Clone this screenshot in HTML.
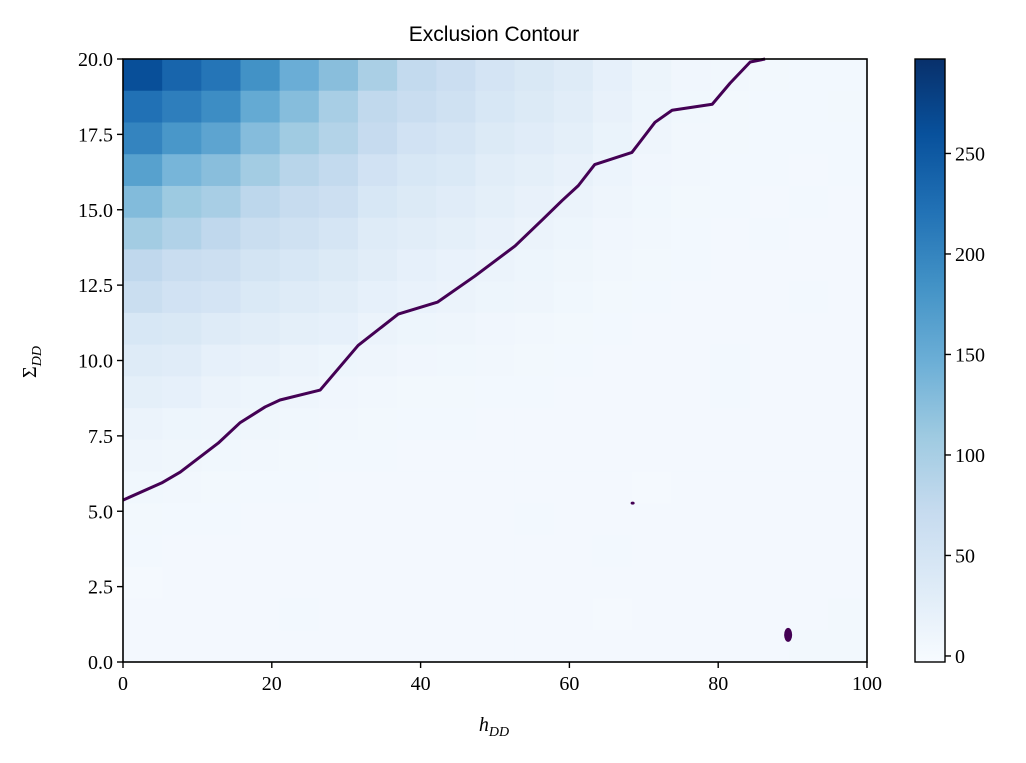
<!DOCTYPE html>
<html><head><meta charset="utf-8"><style>
html,body{margin:0;padding:0;background:#fff;width:1026px;height:763px;overflow:hidden}
svg text{font-family:"Liberation Serif",serif;font-size:20px;fill:#000}
</style></head><body>
<svg id="chart" width="1026" height="763" xmlns="http://www.w3.org/2000/svg">
<g id="heat"></g>
<g id="contour"></g>
<g id="axes"></g>
<g id="cbar"></g>
<text x="494" y="41" text-anchor="middle" style="font-family:'Liberation Sans',sans-serif;font-size:21px">Exclusion Contour</text>
<text x="494" y="731" text-anchor="middle" font-style="italic">h<tspan font-size="14" dy="5">DD</tspan></text>
<text transform="translate(36,362) rotate(-90)" text-anchor="middle">Σ<tspan font-size="14" dy="5" font-style="italic">DD</tspan></text>
</svg>
<script>
const xTicks=[0,20,40,60,80,100];
const yTicks=[0,2.5,5,7.5,10,12.5,15,17.5,20];
const cbTicks=[0,50,100,150,200,250];
const vmin=-3, vmax=297;
// heat values, rows from top (Sigma=20) to bottom (Sigma=0), 19 columns along h
const row18=[262,236,218,185,148,125,98,75,64,50,42,34,22,14,8,6,5,4,4];
const row17=[222,207,190,153,127,100,77,68,58,45,38,30,20,12,7,5,4,4,5];
const row16=[200,178,160,128,108,90,72,55,48,38,32,25,16,10,6,5,4,4,4];
const row15=[165,138,125,105,85,75,55,45,40,30,25,20,13,8,6,4,4,3,4];
const row14=[130,110,100,80,70,62,45,38,32,25,20,15,10,7,5,4,3,4,3];
const row13=[105,92,78,65,58,48,35,30,25,20,15,12,8,6,4,3,4,3,3];
const row12=[78,68,62,52,45,38,30,22,18,15,12,9,6,5,4,3,3,3,3];
const row11=[65,55,50,40,35,30,22,18,15,12,10,7,5,4,3,3,3,4,3];
const row10=[45,42,35,30,25,22,15,12,10,8,6,5,4,3,3,3,3,3,3];
const row9=[35,32,22,20,15,12,10,8,7,6,5,4,3,3,3,4,3,3,3];
const row8=[25,22,15,12,10,8,6,5,5,4,4,3,3,3,3,4,3,3,3];
const row7=[15,12,10,9,7,6,5,4,4,3,3,3,3,3,3,3,3,3,3];
const row6=[10,9,7,6,5,4,4,3,3,3,3,3,3,3,3,3,3,3,3];
const row5=[7,6,5,4,4,3,3,3,3,3,3,3,3,2,3,3,3,3,3];
const row4=[5,4,4,3,3,3,3,3,3,3,4,3,3,3,3,3,3,3,3];
const row3=[4,3,3,3,3,3,3,3,3,3,3,3,4,3,3,3,3,3,3];
const row2=[1,3,3,3,3,3,3,3,3,3,3,3,3,3,3,3,3,3,3];
const row1=[3,3,3,3,4,3,3,3,3,3,3,3,2,3,3,3,3,3,5];
const row0=[3,3,3,3,3,3,3,3,3,3,3,3,3,3,3,3,3,5,5];
const rows=[row18,row17,row16,row15,row14,row13,row12,row11,row10,row9,row8,row7,row6,row5,row4,row3,row2,row1,row0];
const contourH=[0,5.2,7.7,12.8,15.7,19.1,21.1,26.5,31.6,37,42.3,47.3,52.7,56.5,59,61.2,63.4,68.4,71.5,73.8,79.2,81.6,84.3,86.3];
const contourS=[5.37,5.94,6.3,7.26,7.93,8.46,8.69,9.02,10.5,11.54,11.94,12.8,13.8,14.7,15.3,15.8,16.5,16.9,17.9,18.3,18.5,19.2,19.9,20];
const blobH=[68.5,89.4];
const blobS=[5.27,0.9];

const L=123,R=867,T=59,B=662;
const sx=v=>L+(v-0)/(100-0)*(R-L);
const sy=v=>B-(v-0)/(20-0)*(B-T);
const NS="http://www.w3.org/2000/svg";
function mk(tag,attrs,parent){const e=document.createElementNS(NS,tag);for(const k in attrs)e.setAttribute(k,attrs[k]);parent.appendChild(e);return e;}
const stops=[[0,[247,251,255]],[.125,[222,235,247]],[.25,[198,219,239]],[.375,[158,202,225]],[.5,[107,174,214]],[.625,[66,146,198]],[.75,[33,113,181]],[.875,[8,81,156]],[1,[8,48,107]]];
function cmap(v){let f=(v-vmin)/(vmax-vmin);f=Math.max(0,Math.min(1,f));
 for(let i=1;i<stops.length;i++){if(f<=stops[i][0]){const a=stops[i-1],b=stops[i];const t=(f-a[0])/(b[0]-a[0]);
 const c=a[1].map((x,k)=>Math.round(x+(b[1][k]-x)*t));return `rgb(${c})`;}}return 'rgb(8,48,107)';}
const heat=document.getElementById('heat');
const nr=rows.length, nc=rows[0].length;
rows.forEach((r,ri)=>r.forEach((v,ci)=>{
 const x0=sx(ci*100/nc),x1=sx((ci+1)*100/nc);
 const sIdx=nr-1-ri;const y0=sy((sIdx+1)*20/nr),y1=sy(sIdx*20/nr);
 const e=mk('rect',{x:x0,y:y0,width:x1-x0+0.6,height:y1-y0+0.6,fill:cmap(v)},heat);
 
 
}));
const cg=document.getElementById('contour');
const cl=mk('polyline',{points:contourH.map((h,i)=>sx(h)+','+sy(contourS[i])).join(' '),fill:'none',stroke:'#440154','stroke-width':3,'stroke-linejoin':'round'},cg);


blobH.forEach((h,i)=>{
 const e=mk('ellipse',{cx:sx(h),cy:sy(blobS[i]),rx:i?4:2,ry:i?7:1.5,fill:'#440154'},cg);
 
 
});
const ax=document.getElementById('axes');
const fr=mk('rect',{x:L,y:T,width:R-L,height:B-T,fill:'none',stroke:'#000','stroke-width':1.6},ax);


xTicks.forEach(t=>{const x=sx(t);
 mk('line',{x1:x,x2:x,y1:B,y2:B+6,stroke:'#000','stroke-width':1.4},ax);
 const e=mk('text',{x:x,y:B+28,'text-anchor':'middle'},ax);e.textContent=t;
 
 });
yTicks.forEach(t=>{const y=sy(t);
 mk('line',{x1:L-6,x2:L,y1:y,y2:y,stroke:'#000','stroke-width':1.4},ax);
 const e=mk('text',{x:L-10,y:y+7,'text-anchor':'end'},ax);e.textContent=t.toFixed(1);
 
 });
const cb=document.getElementById('cbar');
const CL=915,CR=945;
const cy=v=>B-(v-vmin)/(vmax-vmin)*(B-T);
const grad=mk('linearGradient',{id:'g',x1:0,y1:1,x2:0,y2:0},mk('defs',{},cb));
stops.forEach(s=>mk('stop',{offset:s[0],'stop-color':`rgb(${s[1]})`},grad));
const cr=mk('rect',{x:CL,y:T,width:CR-CL,height:B-T,fill:'url(#g)',stroke:'#000','stroke-width':1.4},cb);


cbTicks.forEach(t=>{const y=cy(t);
 mk('line',{x1:CR,x2:CR+6,y1:y,y2:y,stroke:'#000','stroke-width':1.4},cb);
 const e=mk('text',{x:CR+10,y:y+7},cb);e.textContent=t;
 
 });
</script>
</body></html>
